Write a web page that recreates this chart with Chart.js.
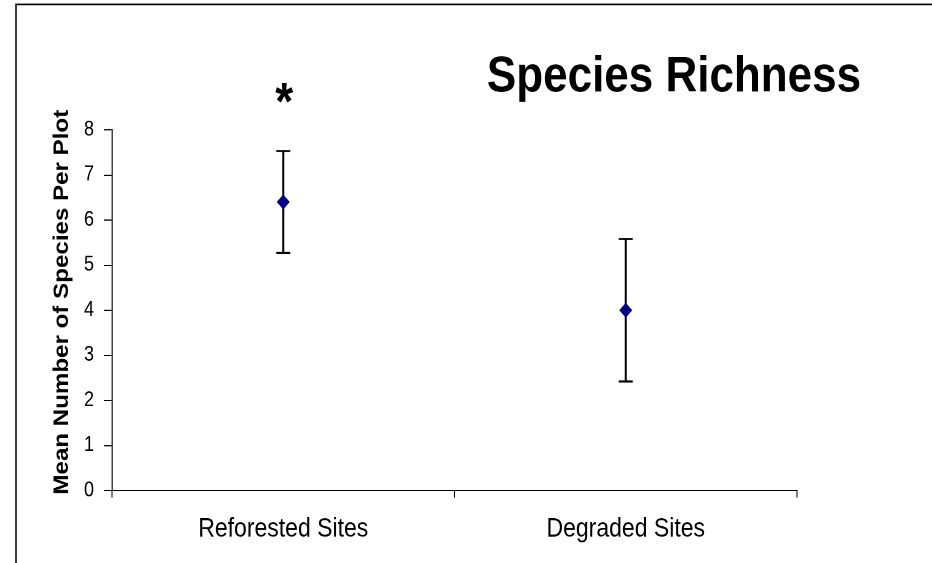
<!DOCTYPE html>
<html><head><meta charset="utf-8">
<script src="https://cdn.jsdelivr.net/npm/chart.js@4"></script>
<style>
html,body{margin:0;padding:0;background:#fff;width:932px;height:563px;}
#outer{position:relative;width:932px;height:563px;overflow:hidden;}
#wrap{position:absolute;left:0;top:0;width:932px;height:490px;transform:scaleY(1.149);transform-origin:0 0;}
canvas{display:block;}
</style></head><body>
<div id="outer"><div id="wrap"><canvas id="c" width="932" height="490"></canvas></div></div>
<script>
// ---- data ----
const categories = ['Reforested Sites', 'Degraded Sites'];
const meanSpecies = [6.4, 4.0];
const errorSpecies = [1.13, 1.58];
const significance = ['*', ''];
const yTicks = [0, 1, 2, 3, 4, 5, 6, 7, 8];
const chartTitle = 'Species Richness';
const yAxisTitle = 'Mean Number of Species Per Plot';

const FONT = "'Liberation Sans', Arial, sans-serif";

const decor = {
  id: 'decor',
  beforeDraw(chart) {
    const ctx = chart.ctx;
    ctx.save();
    ctx.fillStyle = '#fff';
    ctx.fillRect(0, 0, chart.width, chart.height);
    ctx.strokeStyle = '#000';
    ctx.lineWidth = 1.5;
    ctx.beginPath();
    ctx.moveTo(16, chart.height + 2);
    ctx.lineTo(16, 3.9);
    ctx.lineTo(chart.width + 2, 3.9);
    ctx.stroke();
    ctx.restore();
  },
  beforeDatasetsDraw(chart) {
    const ctx = chart.ctx, xs = chart.scales.x, ys = chart.scales.y;
    ctx.save();
    ctx.strokeStyle = '#000';
    meanSpecies.forEach((m, i) => {
      const x = xs.getPixelForValue(i);
      const yT = ys.getPixelForValue(m + errorSpecies[i]);
      const yB = ys.getPixelForValue(m - errorSpecies[i]);
      ctx.lineWidth = 2;
      ctx.beginPath(); ctx.moveTo(x, yT); ctx.lineTo(x, yB); ctx.stroke();
      ctx.lineWidth = 1.7;
      ctx.beginPath();
      ctx.moveTo(x - 7, yT); ctx.lineTo(x + 7, yT);
      ctx.moveTo(x - 7, yB); ctx.lineTo(x + 7, yB);
      ctx.stroke();
    });
    ctx.restore();
  },
  afterDraw(chart) {
    const ctx = chart.ctx, xs = chart.scales.x, ys = chart.scales.y;
    ctx.save();
    ctx.fillStyle = '#000';
    // chart title
    ctx.font = 'bold 44px ' + FONT;
    ctx.textAlign = 'center';
    ctx.textBaseline = 'middle';
    ctx.fillText(chartTitle, 674, 67.5);
    // y-axis title
    ctx.save();
    ctx.translate(62, 263);
    ctx.rotate(-Math.PI / 2);
    ctx.font = 'bold 21px ' + FONT;
    ctx.fillText(yAxisTitle, 0, 0);
    ctx.restore();
    // significance markers
    const fs = 46;
    ctx.font = 'bold ' + fs + 'px ' + FONT;
    ctx.textBaseline = 'middle';
    significance.forEach((s, i) => {
      if (!s) return;
      const x = xs.getPixelForValue(i);
      const yc = ys.getPixelForValue(meanSpecies[i] + errorSpecies[i]) - 50.5;
      ctx.fillText(s, x + 1, yc + 0.23 * fs);
    });
    ctx.restore();
  }
};

new Chart(document.getElementById('c'), {
  type: 'line',
  data: {
    labels: categories,
    datasets: [{
      data: meanSpecies,
      showLine: false,
      pointStyle: 'rectRot',
      pointRadius: 6.5,
      pointBackgroundColor: '#000080',
      pointBorderColor: '#000080',
      pointBorderWidth: 0
    }]
  },
  options: {
    responsive: false,
    devicePixelRatio: 2,
    animation: false,
    layout: { padding: { top: 113, right: 135, bottom: 0, left: 0 } },
    plugins: { legend: { display: false }, tooltip: { enabled: false }, title: { display: false } },
    scales: {
      x: {
        type: 'category',
        offset: true,
        afterFit(s) { s.height = 63; },
        grid: { display: true, drawOnChartArea: false, drawTicks: true, tickLength: 6, tickColor: '#000', offset: true, lineWidth: 1 },
        border: { display: true, color: '#000', width: 1 },
        ticks: { color: '#000', font: { family: FONT, size: 23 }, padding: 14, maxRotation: 0 }
      },
      y: {
        min: 0, max: 8,
        afterFit(s) { s.width = 112; },
        afterBuildTicks(s) { s.ticks = yTicks.map(v => ({ value: v })); },
        grid: { display: true, drawOnChartArea: false, drawTicks: true, tickLength: 8, tickColor: '#000', lineWidth: 1 },
        border: { display: true, color: '#444', width: 1.5 },
        ticks: { color: '#000', font: { family: FONT, size: 18 }, padding: 10 }
      }
    }
  },
  plugins: [decor]
});
</script>
</body></html>
